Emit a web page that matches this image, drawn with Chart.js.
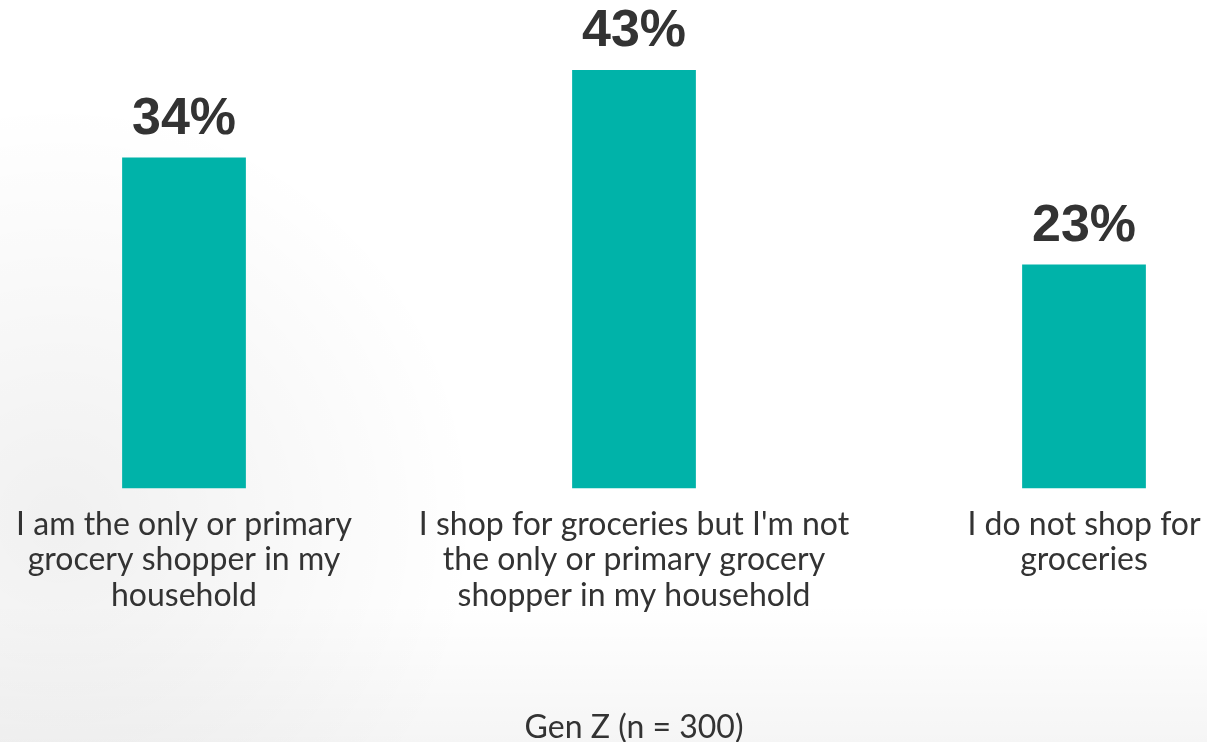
<!DOCTYPE html>
<html>
<head>
<meta charset="utf-8">
<script src="https://cdn.jsdelivr.net/npm/chart.js@4"></script>
<style>
    html, body { margin: 0; padding: 0; background: #ffffff; }
    #wrap { width: 1207px; height: 742px; position: relative; }
</style>
</head>
<body>
<div id="wrap"><canvas id="shopperChart"></canvas></div>
<script>
const categories = [
    ['I am the only or primary', 'grocery shopper in my', 'household'],
    ['I shop for groceries but I\'m not', 'the only or primary grocery', 'shopper in my household'],
    ['I do not shop for', 'groceries']
];
const shares = [34, 43, 23];
const sampleLabel = 'Gen Z (n = 300)';

const textColor = '#333333';
const barColor = '#00b3a9';

// soft grey haze behind the chart
const backdrop = {
    id: 'backdrop',
    beforeDraw(chart) {
        const ctx = chart.ctx;
        const w = chart.width, h = chart.height;
        ctx.save();
        ctx.fillStyle = '#ffffff';
        ctx.fillRect(0, 0, w, h);
        let g = ctx.createRadialGradient(60, 520, 20, 60, 520, 420);
        g.addColorStop(0, 'rgba(0,0,0,0.055)');
        g.addColorStop(1, 'rgba(0,0,0,0)');
        ctx.fillStyle = g;
        ctx.fillRect(0, 0, w, h);
        g = ctx.createLinearGradient(0, h - 140, 0, h);
        g.addColorStop(0, 'rgba(0,0,0,0)');
        g.addColorStop(1, 'rgba(0,0,0,0.04)');
        ctx.fillStyle = g;
        ctx.fillRect(0, h - 140, w, 140);
        ctx.restore();
    }
};

// percentage above each bar
const valueLabels = {
    id: 'valueLabels',
    afterDatasetsDraw(chart) {
        const ctx = chart.ctx;
        const meta = chart.getDatasetMeta(0);
        ctx.save();
        ctx.font = 'bold 52px "Liberation Sans", Arial, sans-serif';
        ctx.fillStyle = textColor;
        ctx.textAlign = 'center';
        ctx.textBaseline = 'alphabetic';
        meta.data.forEach((bar, i) => {
            ctx.fillText(shares[i] + '%', bar.x, bar.y - 24);
        });
        ctx.restore();
    }
};

function draw() {
    new Chart(document.getElementById('shopperChart'), {
        type: 'bar',
        data: {
            labels: categories,
            datasets: [{
                data: shares,
                backgroundColor: barColor,
                categoryPercentage: 1,
                barPercentage: 0.275,
                clip: false
            }]
        },
        options: {
            responsive: true,
            maintainAspectRatio: false,
            animation: false,
            layout: {
                padding: { left: 184, right: 123, top: 2, bottom: 1 }
            },
            plugins: {
                legend: { display: false },
                tooltip: { enabled: false }
            },
            scales: {
                x: {
                    offset: false,
                    // ticks are hidden, tickLength only spaces the labels
                    grid: { display: false, drawTicks: true, tickLength: 14 },
                    border: { display: false },
                    ticks: {
                        color: textColor,
                        padding: 5,
                        maxRotation: 0,
                        autoSkip: false,
                        font: { family: 'Lato', size: 32, lineHeight: 1.1 }
                    },
                    title: {
                        display: true,
                        text: sampleLabel,
                        color: textColor,
                        font: { family: 'Lato', size: 32, lineHeight: 0.85 },
                        padding: { top: 96, bottom: 0 }
                    }
                },
                y: {
                    display: false,
                    min: 0,
                    max: 50
                }
            }
        },
        plugins: [backdrop, valueLabels]
    });
}

if (document.fonts && document.fonts.load) {
    Promise.all([
        document.fonts.load('32px Lato'),
        document.fonts.load('bold 52px "Liberation Sans"')
    ]).then(draw, draw);
} else {
    draw();
}
</script>
</body>
</html>
